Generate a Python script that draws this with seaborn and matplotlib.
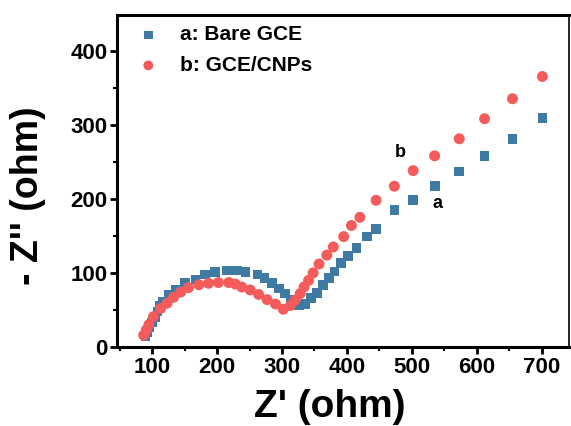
import matplotlib
matplotlib.use("Agg")
import matplotlib.pyplot as plt
from matplotlib.ticker import MultipleLocator
import seaborn as sns
import pandas as pd

# Nyquist data: bare glassy carbon electrode (a)
z_real_a = [90, 92, 96, 100, 104, 108, 112, 117, 126, 136, 151, 167, 181, 197, 215, 231,
            244, 262, 273, 285, 295, 305, 314, 326, 336, 345, 354, 363, 372, 381, 391,
            402, 415, 431, 445, 473, 502, 536, 573, 612, 655, 701]
z_imag_a = [14, 20, 27, 33, 40, 48, 55, 61, 70, 77, 86, 91, 98, 101, 103, 103,
            101, 98, 93, 86, 79, 72, 64, 57, 58, 66, 73, 84, 93, 102, 113,
            123, 134, 149, 159, 185, 198, 217, 237, 258, 281, 309]

# Nyquist data: carbon-nanoparticle modified electrode (b)
z_real_b = [87, 91, 95, 102, 113, 123, 133, 144, 156, 172, 187, 202, 218, 228, 238, 251,
            264, 277, 290, 302, 313, 320, 328, 334, 341, 348, 357, 369, 379, 395, 407,
            420, 445, 473, 502, 535, 573, 612, 655, 701]
z_imag_b = [16, 23, 30, 41, 52, 59, 67, 74, 80, 84, 86, 87, 87, 85, 81, 77,
            71, 64, 58, 51, 56, 63, 72, 81, 90, 100, 112, 124, 135, 149, 164,
            175, 198, 217, 238, 258, 281, 308, 335, 365]

labels = ["a: Bare GCE", "b: GCE/CNPs"]
x_ticks = [100, 200, 300, 400, 500, 600, 700]
y_ticks = [0, 100, 200, 300, 400]

blue = "#3f7aa5"
red = "#f45b5b"

sns.set_theme(style="white")
plt.rcParams["font.family"] = ["Liberation Sans", "DejaVu Sans"]
plt.rcParams["font.weight"] = "bold"
plt.rcParams["text.color"] = "black"
plt.rcParams["axes.labelcolor"] = "black"

df_a = pd.DataFrame({"x": z_real_a, "y": z_imag_a})
df_b = pd.DataFrame({"x": z_real_b, "y": z_imag_b})

fig = plt.figure(figsize=(5.71, 4.26), dpi=100)
ax = fig.add_axes([0.205, 0.1854, 0.7915, 0.7794])

sns.scatterplot(data=df_a, x="x", y="y", ax=ax, marker="s", s=48, color=blue,
                edgecolor="none", label=labels[0], zorder=3)
sns.scatterplot(data=df_b, x="x", y="y", ax=ax, marker="o", s=62, color=red,
                edgecolor="none", label=labels[1], zorder=4)

ax.set_xlim(46, 742)
ax.set_ylim(0, 448)
ax.set_xticks(x_ticks)
ax.set_yticks(y_ticks)
ax.xaxis.set_minor_locator(MultipleLocator(50))
ax.yaxis.set_minor_locator(MultipleLocator(50))

for side in ["left", "bottom", "top", "right"]:
    ax.spines[side].set_color("black")
ax.spines["left"].set_linewidth(2.2)
ax.spines["bottom"].set_linewidth(2.2)
ax.spines["top"].set_linewidth(2.2)
ax.spines["right"].set_linewidth(1.2)

ax.tick_params(axis="both", which="major", direction="out", length=5, width=2,
               labelsize=16, color="black", labelcolor="black", pad=2,
               bottom=True, left=True, top=False, right=False)
ax.tick_params(axis="both", which="minor", direction="out", length=3, width=1.5,
               color="black", bottom=True, left=True, top=False, right=False)
for lbl in ax.get_xticklabels() + ax.get_yticklabels():
    lbl.set_fontweight("bold")

ax.set_xlabel("Z' (ohm)", fontsize=28, fontweight="bold", color="black")
ax.set_ylabel("- Z'' (ohm)", fontsize=27, fontweight="bold", color="black")
ax.xaxis.set_label_coords(0.471, -0.125, transform=ax.transAxes)
ax.yaxis.set_label_coords(-0.158, 0.457, transform=ax.transAxes)

ax.text(482, 263, "b", fontsize=13, fontweight="bold", ha="center", va="center",
        color="black")
ax.text(539, 194, "a", fontsize=13, fontweight="bold", ha="center", va="center",
        color="black")

leg = ax.legend(loc="upper left", bbox_to_anchor=(0.0, 1.0), frameon=False,
                prop={"size": 15, "weight": "bold"}, handletextpad=0.5,
                borderaxespad=0.05, labelspacing=0.55, markerscale=0.9,
                borderpad=0.45, labelcolor="black")

fig.savefig("out.png", dpi=100, facecolor="white")
